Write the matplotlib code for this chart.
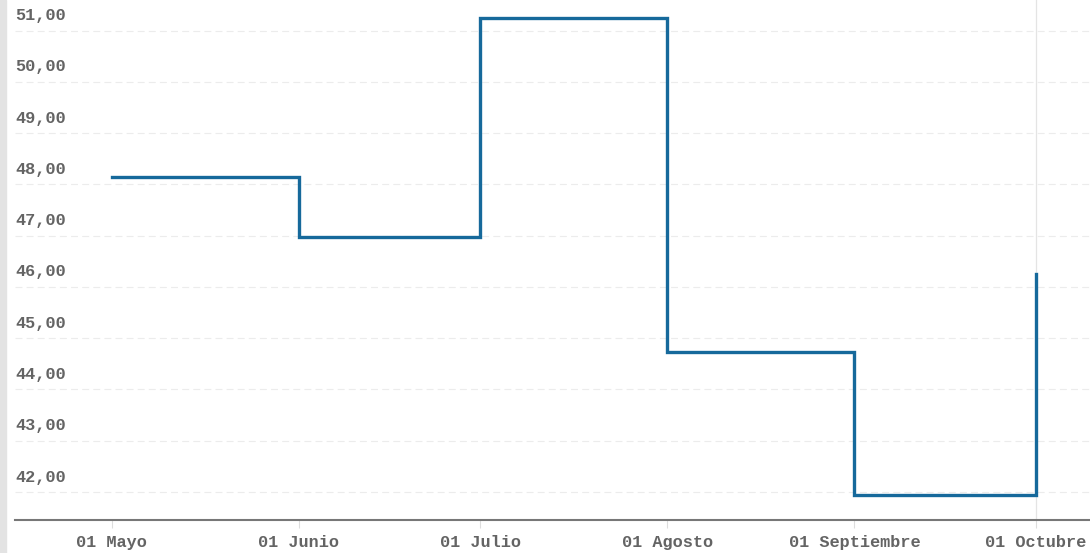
import matplotlib
matplotlib.use("Agg")
import matplotlib.pyplot as plt
import matplotlib.transforms as mtransforms
from matplotlib.patches import Rectangle
import datetime as dt

# datos
fechas = [dt.date(2023, 5, 1), dt.date(2023, 6, 1), dt.date(2023, 7, 1),
          dt.date(2023, 8, 1), dt.date(2023, 9, 1), dt.date(2023, 10, 1)]
valores = [48.14, 46.97, 51.25, 44.73, 41.94, 46.25]
etiquetas_x = ["01 Mayo", "01 Junio", "01 Julio", "01 Agosto",
               "01 Septiembre", "01 Octubre"]
ticks_y = [42, 43, 44, 45, 46, 47, 48, 49, 50, 51]

plt.rcParams['font.family'] = ['Liberation Mono', 'DejaVu Sans Mono']
plt.rcParams['lines.scale_dashes'] = False

W, H = 1090, 553
fig = plt.figure(figsize=(W / 100, H / 100), dpi=100)
fig.patches.append(Rectangle((0, 0), 6 / W, 1, transform=fig.transFigure,
                             color="#e3e3e3", zorder=0))
ax = fig.add_axes([15 / W, 33 / H, 1075 / W, 520 / H])

ax.step(fechas, valores, where="post", color="#16699b", lw=2.4,
        solid_joinstyle="miter", zorder=3)

ax.set_xlim(dt.date(2023, 4, 15) + dt.timedelta(hours=15),
            dt.date(2023, 10, 10) + dt.timedelta(hours=15))
ax.set_ylim(41.454, 51.595)

# grid
for v in ticks_y:
    ax.axhline(v, color="#ececec", lw=0.8, ls=(0, (5, 3)), zorder=1)
ax.axvline(fechas[-1], color="#e4e4e4", lw=0.9, zorder=1)

# etiquetas del eje y encima de la linea de grid
off = mtransforms.offset_copy(ax.get_yaxis_transform(), fig=fig, x=0, y=15,
                              units="dots")
for v in ticks_y:
    ax.text(0.0, v, f"{v},00", transform=off, ha="left", va="center",
            fontsize=12.2, fontweight="bold", color="#646464")
ax.set_yticks([])

ax.set_xticks(fechas)
ax.set_xticklabels(etiquetas_x, fontsize=12.2, fontweight="bold",
                   color="#646464")
ax.tick_params(axis="x", length=6, width=0.8, color="#dddddd", pad=4.5)

for s in ["top", "right", "left"]:
    ax.spines[s].set_visible(False)
ax.spines["bottom"].set_color("#777777")
ax.spines["bottom"].set_linewidth(1.5)

fig.savefig("out.png", dpi=100)
